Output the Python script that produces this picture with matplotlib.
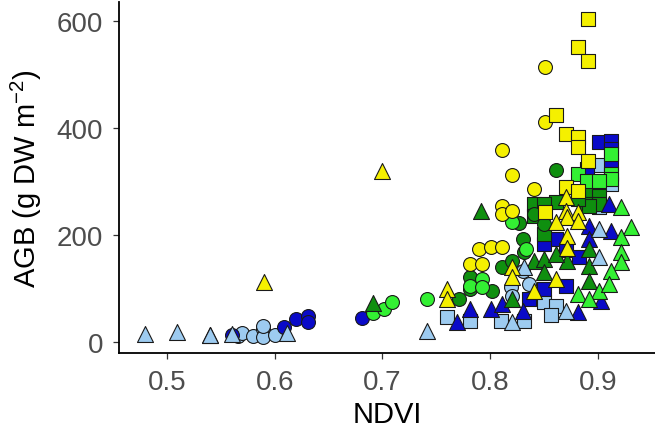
import matplotlib
matplotlib.use("Agg")
import matplotlib.pyplot as plt

plt.rcParams['font.family'] = ['Liberation Sans', 'DejaVu Sans']
plt.rcParams['mathtext.default'] = 'regular'

# ---- data (NDVI, AGB in g DW m-2) ----
# light blue
lb_tri_x = [0.480, 0.509, 0.540, 0.560, 0.611, 0.741, 0.820, 0.901, 0.901, 0.870, 0.831]
lb_tri_y = [15, 19, 13, 15, 17, 21, 37, 211, 159, 58, 140]
lb_circ_x = [0.566, 0.570, 0.580, 0.589, 0.589, 0.589, 0.600, 0.819, 0.820, 0.830, 0.836]
lb_circ_y = [11, 17, 11, 24, 9, 30, 13, 103, 86, 133, 108]
lb_sq_x = [0.760, 0.781, 0.810, 0.831, 0.850, 0.861, 0.901, 0.912, 0.901, 0.856]
lb_sq_y = [47, 39, 39, 39, 75, 67, 331, 295, 252, 50]

# dark blue
db_circ_x = [0.560, 0.609, 0.620, 0.631, 0.631, 0.681]
db_circ_y = [13, 28, 43, 49, 37, 45]
db_tri_x = [0.540, 0.769, 0.781, 0.801, 0.811, 0.830, 0.881, 0.903, 0.910, 0.892, 0.912, 0.892]
db_tri_y = [13, 37, 62, 62, 71, 58, 56, 77, 258, 217, 207, 193]
db_sq_x = [0.901, 0.912, 0.912, 0.890, 0.912, 0.870, 0.850, 0.861, 0.850, 0.836, 0.870, 0.882]
db_sq_y = [374, 376, 361, 323, 333, 105, 99, 193, 183, 80, 172, 159]

# dark green
dg_circ_x = [0.861, 0.781, 0.781, 0.802, 0.771, 0.811, 0.830, 0.831, 0.820, 0.841, 0.850, 0.827]
dg_circ_y = [321, 121, 99, 95, 80, 140, 193, 168, 151, 239, 220, 222]
dg_tri_x = [0.691, 0.791, 0.841, 0.850, 0.850, 0.820, 0.871, 0.892, 0.892, 0.892, 0.861]
dg_tri_y = [73, 245, 151, 155, 131, 80, 151, 142, 114, 174, 164]
dg_sq_x = [0.841, 0.841, 0.861, 0.850, 0.892, 0.901, 0.890, 0.901, 0.892, 0.881, 0.850]
dg_sq_y = [258, 235, 262, 258, 280, 273, 258, 258, 254, 267, 202]

# light green
lg_circ_x = [0.691, 0.701, 0.709, 0.741, 0.781, 0.792, 0.792, 0.820, 0.833]
lg_circ_y = [54, 62, 75, 80, 105, 118, 103, 224, 174]
lg_tri_x = [0.921, 0.931, 0.921, 0.921, 0.921, 0.912, 0.881, 0.901, 0.910, 0.892]
lg_tri_y = [252, 215, 196, 168, 150, 133, 90, 95, 108, 80]
lg_sq_x = [0.912, 0.912, 0.912, 0.881, 0.890, 0.901]
lg_sq_y = [351, 314, 305, 314, 301, 301]

# yellow
ye_circ_x = [0.851, 0.851, 0.811, 0.820, 0.841, 0.811, 0.811, 0.820, 0.790, 0.801, 0.811, 0.781, 0.792]
ye_circ_y = [514, 411, 359, 312, 286, 254, 239, 245, 174, 178, 178, 146, 146]
ye_sq_x = [0.891, 0.881, 0.891, 0.861, 0.870, 0.881, 0.881, 0.891, 0.870, 0.881, 0.851]
ye_sq_y = [602, 551, 525, 424, 389, 383, 363, 338, 290, 282, 243]
ye_tri_x = [0.590, 0.700, 0.760, 0.760, 0.820, 0.820, 0.841, 0.861, 0.870, 0.870, 0.881,
            0.871, 0.881, 0.861, 0.871, 0.871]
ye_tri_y = [112, 320, 99, 80, 140, 121, 95, 118, 271, 245, 243, 234, 226, 224, 198, 176]

c_lb = '#9DCBF0'
c_db = '#0A0AC8'
c_dg = '#0F8F0F'
c_lg = '#33F033'
c_ye = '#F5F000'

fig = plt.figure(figsize=(6.55, 4.35), dpi=100)
ax = fig.add_axes([0.1817, 0.1862, 0.8183, 0.8062])

groups = [
    (lb_sq_x, lb_sq_y, c_lb, 's'), (lb_circ_x, lb_circ_y, c_lb, 'o'),
    (db_circ_x, db_circ_y, c_db, 'o'), (db_sq_x, db_sq_y, c_db, 's'),
    (dg_sq_x, dg_sq_y, c_dg, 's'), (dg_circ_x, dg_circ_y, c_dg, 'o'),
    (lg_circ_x, lg_circ_y, c_lg, 'o'), (lg_sq_x, lg_sq_y, c_lg, 's'),
    (ye_circ_x, ye_circ_y, c_ye, 'o'), (ye_sq_x, ye_sq_y, c_ye, 's'),
    (db_tri_x, db_tri_y, c_db, '^'), (dg_tri_x, dg_tri_y, c_dg, '^'),
    (lb_tri_x, lb_tri_y, c_lb, '^'), (lg_tri_x, lg_tri_y, c_lg, '^'),
    (ye_tri_x, ye_tri_y, c_ye, '^'),
]
sizes = {'o': 10.0 ** 2, 's': 9.5 ** 2, '^': 11.5 ** 2}
for gx, gy, col, mk in groups:
    ax.scatter(gx, gy, s=sizes[mk], marker=mk, c=col, edgecolors='#1a1a1a',
               linewidths=0.8, clip_on=False)

ax.set_xlim(0.4556, 0.9528)
ax.set_ylim(-20.6, 634)
ax.set_xticks([0.5, 0.6, 0.7, 0.8, 0.9])
ax.set_yticks([0, 200, 400, 600])

for s in ['top', 'right']:
    ax.spines[s].set_visible(False)
for s in ['left', 'bottom']:
    ax.spines[s].set_linewidth(1.3)
    ax.spines[s].set_color('black')

ax.tick_params(axis='both', length=4.3, width=0.9, color='#333333',
               labelsize=20, labelcolor='#4D4D4D', pad=7)

ax.set_xlabel('NDVI', fontsize=21, color='black')
ax.set_ylabel(r'AGB (g DW m$^{-2}$)', fontsize=21, color='black')
ax.xaxis.set_label_coords(0.5, -0.135)
ax.yaxis.set_label_coords(-0.14, 0.5)

fig.savefig('out.png', dpi=100)
